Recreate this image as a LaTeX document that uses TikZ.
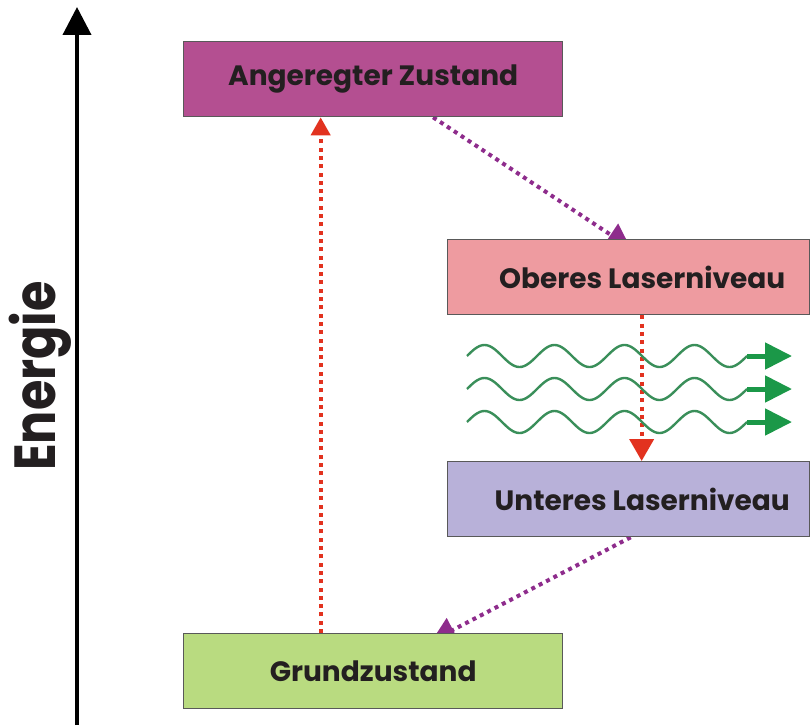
\documentclass[tikz,border=0pt]{standalone}
\usepackage{fontspec}
\setmainfont{Poppins}
\usetikzlibrary{arrows.meta,backgrounds,calc}
\definecolor{cAng}{HTML}{B44F91}
\definecolor{cOb}{HTML}{EE9BA0}
\definecolor{cUn}{HTML}{B8B1D9}
\definecolor{cGr}{HTML}{B9DB80}
\definecolor{cRed}{HTML}{E2321F}
\definecolor{cPur}{HTML}{8E2C8C}
\definecolor{cWave}{HTML}{3A8F5A}
\definecolor{cHead}{HTML}{1B9848}
\definecolor{cTxt}{HTML}{231F20}
\begin{document}
\begin{tikzpicture}[x=1pt,y=-1pt,
  level/.style={draw=black!65, line width=1.3pt, minimum height=75pt, inner sep=0pt,
    anchor=north west, font=\fontsize{28}{32}\selectfont\bfseries, text=cTxt},
  reddot/.style={cRed, line width=4pt, dash pattern=on 4pt off 4.3pt},
  purdot/.style={cPur, line width=4pt, dash pattern=on 4pt off 4.3pt},
  wave/.style={cWave, line width=2.4pt},
  wavehead/.style={cHead, line width=5pt, -{Triangle[length=27pt,width=26pt]}}
]
\useasboundingbox (0,0) rectangle (810,725);

% energy axis
\coordinate (axb) at (77,725);
\coordinate (axt) at (77,7);
\draw[line width=4pt, -{Triangle[length=28pt,width=28pt]}] (axb) -- (axt);
\node[rotate=90, font=\fontsize{58}{60}\selectfont\bfseries, text=cTxt] (en) at (40,376) {\scalebox{0.85}[1]{Energie}};

% levels
\node[level, fill=cAng, minimum width=379pt] (ang) at (183,41) {Angeregter Zustand};
\node[level, fill=cOb, minimum width=362pt] (ob) at (447,239) {\hspace*{27pt}Oberes Laserniveau};
\node[level, fill=cUn, minimum width=362pt] (un) at (447,461) {\hspace*{27pt}Unteres Laserniveau};
\node[level, fill=cGr, minimum width=379pt] (gr) at (183,633) {Grundzustand};

% transitions
\draw[reddot, -{Triangle[length=18pt,width=19pt]}] ([xshift=-52.5pt]gr.north) -- ([xshift=-52.5pt]ang.south);
\draw[reddot, -{Triangle[length=22pt,width=24pt]}] ([xshift=13pt]ob.south) -- ([xshift=13pt]un.north);
\begin{scope}[on background layer]
\draw[purdot, -{Triangle[length=24pt,width=26pt]}] ([xshift=60pt]ang.south) -- ([xshift=2pt,yshift=-9pt]ob.north);
\draw[purdot, -{Triangle[length=24pt,width=26pt]}] ([xshift=2pt]un.south) -- ([xshift=58.5pt,yshift=-8pt]gr.north);
\end{scope}

% photons
\foreach \yc in {356,389,422}{
  \draw[wave] plot[domain=0:280, samples=160, smooth] ({467+\x},{\yc-11*sin(\x/70*360)});
  \draw[wavehead] (747,\yc) -- (792,\yc);
}
\end{tikzpicture}
\end{document}
